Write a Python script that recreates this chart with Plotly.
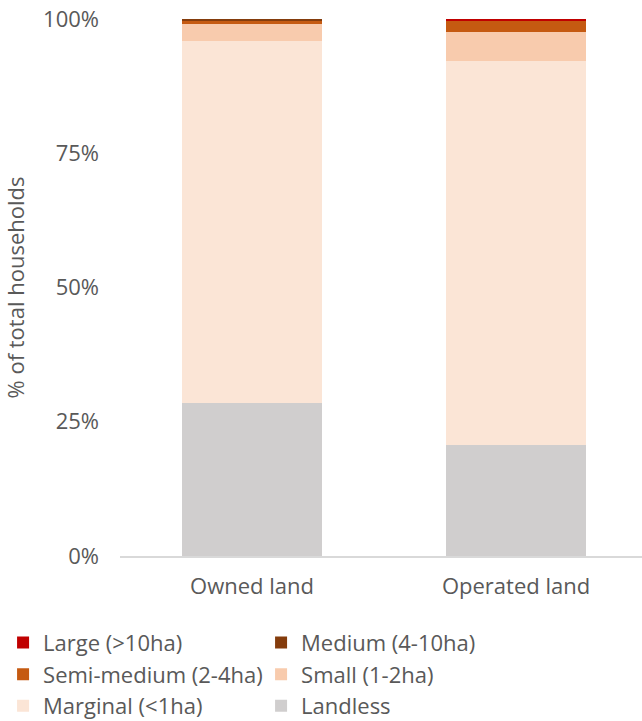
import plotly.graph_objects as go

# Share of households by land-holding size class
categories = ["Owned land", "Operated land"]

landless = [28.4, 20.7]
marginal = [67.5, 71.5]
small = [3.2, 5.4]
semi_medium = [0.7, 2.1]
medium = [0.2, 0.1]
large = [0.0, 0.2]

series_names = [
    "Landless",
    "Marginal (<1ha)",
    "Small (1-2ha)",
    "Semi-medium (2-4ha)",
    "Medium (4-10ha)",
    "Large (>10ha)",
]
series_values = [landless, marginal, small, semi_medium, medium, large]
series_colors = ["#D0CECE", "#FBE5D6", "#F8CBAD", "#C55A11", "#843C0C", "#C00000"]

y_ticks = [0, 25, 50, 75, 100]
y_ticktext = ["0%", "25%", "50%", "75%", "100%"]

TEXT = "#595959"
FONT = "Open Sans"
SIZE = 22

fig = go.Figure()
for name, vals, col in zip(series_names, series_values, series_colors):
    fig.add_trace(
        go.Bar(
            x=categories,
            y=vals,
            name=name,
            marker=dict(color=col, line=dict(width=0)),
            hoverinfo="name+y",
        )
    )

fig.update_layout(
    width=642,
    height=721,
    barmode="stack",
    bargap=0.473,
    plot_bgcolor="white",
    paper_bgcolor="white",
    font=dict(family=FONT, size=SIZE, color=TEXT),
    margin=dict(l=120, r=0, t=19, b=165, autoexpand=False),
    xaxis=dict(
        range=[-0.5, 1.477],
        showline=True,
        linecolor="#D9D9D9",
        linewidth=1.5,
        ticks="",
        showgrid=False,
        ticklabelstandoff=10,
        tickfont=dict(size=SIZE, color=TEXT),
    ),
    yaxis=dict(
        range=[0, 100],
        tickvals=y_ticks,
        ticktext=y_ticktext,
        showgrid=False,
        zeroline=False,
        showline=False,
        ticks="",
        ticklabelstandoff=20,
        tickfont=dict(size=SIZE, color=TEXT),
        title=dict(text="% of total households", font=dict(size=SIZE, color=TEXT), standoff=14),
    ),
    legend=dict(
        orientation="h",
        traceorder="reversed",
        x=-0.224,
        xanchor="left",
        y=-0.1225,
        yanchor="top",
        entrywidth=213,
        entrywidthmode="pixels",
        font=dict(size=SIZE, color=TEXT),
        bgcolor="rgba(0,0,0,0)",
    ),
)

fig.write_html("out.html")
